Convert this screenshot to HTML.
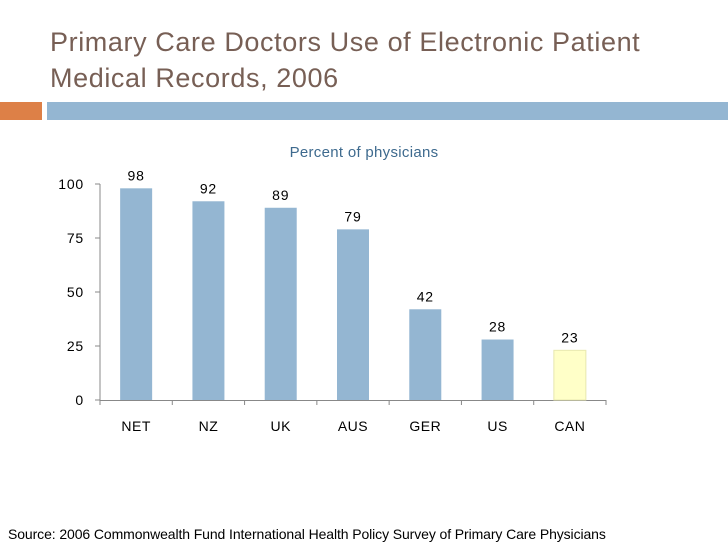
<!DOCTYPE html>
<html><head><meta charset="utf-8"><style>
body{margin:0;width:728px;height:546px;background:#fff;overflow:hidden;position:relative;font-family:"Liberation Sans",sans-serif}
.t{position:absolute;left:50px;top:24px;font-size:27px;color:#775F55;line-height:36px;letter-spacing:0.6px}
</style></head><body>
<div class="t">Primary Care Doctors Use of Electronic Patient<br>Medical Records, 2006</div>
<div style="position:absolute;left:0;top:102px;width:42px;height:18px;background:#DD8047"></div>
<div style="position:absolute;left:47px;top:102px;width:681px;height:18px;background:#94B6D2"></div>
<svg id="c" width="728" height="546" style="position:absolute;left:0;top:0"></svg>
<div style="position:absolute;left:8px;top:526px;font-size:14px;letter-spacing:-0.1px;color:#000;white-space:nowrap">Source: 2006 Commonwealth Fund International Health Policy Survey of Primary Care Physicians</div>
<script>
const categories=["NET","NZ","UK","AUS","GER","US","CAN"];
const values=[98,92,89,79,42,28,23];
const ticks=[0,25,50,75,100];
const NS="http://www.w3.org/2000/svg";
const svg=document.getElementById('c');
const x0=100,x1=606,y0=400,y100=184;
const y=v=>y0-(v/100)*(y0-y100);
const bw=(x1-x0)/categories.length;
const xc=i=>x0+bw*(i+0.5);
function mk(t,a,txt){const e=document.createElementNS(NS,t);for(const k in a)e.setAttribute(k,a[k]);if(txt!==undefined)e.textContent=txt;svg.appendChild(e);return e;}
let e=mk('text',{x:364,y:157,'text-anchor':'middle','font-size':15,fill:'#3E6A8E','letter-spacing':0.3},'Percent of physicians');


e=mk('line',{x1:x0,y1:y100,x2:x0,y2:y0,stroke:'#888','stroke-width':1});


e=mk('line',{x1:x0,y1:y0+0.5,x2:x1,y2:y0+0.5,stroke:'#888','stroke-width':1});


ticks.forEach(t=>{
 e=mk('line',{x1:x0-5,y1:y(t),x2:x0,y2:y(t),stroke:'#888'});
 
 
 e=mk('text',{x:84,y:y(t)+5,'text-anchor':'end','font-size':14,fill:'#000','letter-spacing':0.8},t);
 
 
});
for(let i=0;i<=categories.length;i++){
 e=mk('line',{x1:x0+bw*i,y1:y0,x2:x0+bw*i,y2:y0+5,stroke:'#888'});
 
 
}
categories.forEach((c,i)=>{
 const last=i===categories.length-1;
 e=mk('rect',{x:xc(i)-16,y:y(values[i]),width:32,height:y0-y(values[i]),fill:last?'#FFFFC8':'#94B6D2',stroke:last?'#E8E8B0':'none'});
 
 
 e=mk('text',{x:xc(i),y:y(values[i])-8,'text-anchor':'middle','font-size':14,fill:'#000','letter-spacing':0.8},values[i]);
 
 
 e=mk('text',{x:xc(i),y:431,'text-anchor':'middle','font-size':14,fill:'#000','letter-spacing':0.5},c);
 
 
});
</script>
</body></html>
